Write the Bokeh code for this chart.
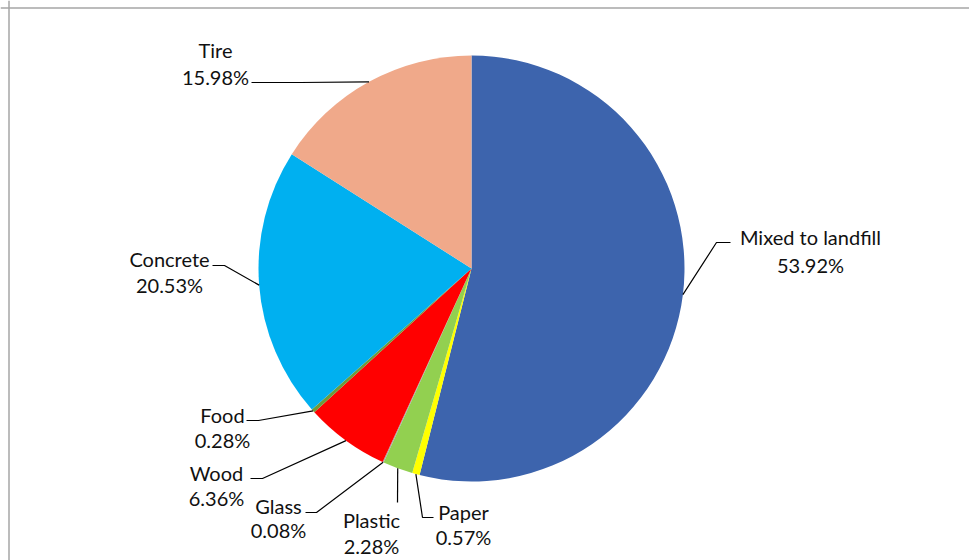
import math
from bokeh.plotting import figure
from bokeh.models import Range1d, Span
from bokeh.core.properties import value
from bokeh.embed import file_html
from bokeh.resources import INLINE

# ---- data ----
categories = ["Mixed to landfill", "Paper", "Plastic", "Glass", "Wood", "Food", "Concrete", "Tire"]
shares = [53.92, 0.57, 2.28, 0.08, 6.36, 0.28, 20.53, 15.98]
colors = ["#3D64AD", "#FFFF00", "#92D050", "#A5A5A5", "#FF0000", "#6E9B3A", "#00B0F0", "#F0A98A"]

# ---- layout (screen pixel coordinates) ----
W, H = 969, 560
CX_S, CY_S, R = 471, 268, 213
TEXT_SHIFT = -2

# label layout: text centre x, name y, pct y, elbow point, line end point
label_layout = {
    "Mixed to landfill": (810, 238, 266, (716, 242), (730, 242)),
    "Paper": (463, 513, 538, (422, 517), (433, 517)),
    "Plastic": (371, 521, 547, (397, 502), (397, 502)),
    "Glass": (278, 507, 531, (316, 512), (305, 512)),
    "Wood": (216, 474, 499, (262, 478), (250, 478)),
    "Food": (222, 416, 441, (258, 420), (246, 420)),
    "Concrete": (169, 260, 286, (224, 265), (212, 265)),
    "Tire": (215, 51, 78, (300, 82), (251, 82)),
}


def dx(sx):
    return sx


def dy(sy):
    return H - sy


p = figure(width=W, height=H, x_range=Range1d(0, W), y_range=Range1d(0, H),
           output_backend="svg", toolbar_location=None, min_border=0)
p.axis.visible = False
p.xgrid.visible = False
p.ygrid.visible = False
p.outline_line_color = None
p.background_fill_color = "white"
p.border_fill_color = "white"

total = sum(shares)
cx, cy = dx(CX_S), dy(CY_S)
starts, ends, mids = [], [], []
cum = 0.0
for s in shares:
    a0 = math.pi / 2 - 2 * math.pi * cum / total
    cum += s
    a1 = math.pi / 2 - 2 * math.pi * cum / total
    starts.append(a0)
    ends.append(a1)
    mids.append((a0 + a1) / 2)

p.wedge(x=[cx] * len(shares), y=[cy] * len(shares), radius=R,
        start_angle=starts, end_angle=ends, direction="clock",
        fill_color=colors, line_color=None)

font = value("Lato")
fs = "20px"
xs_lines, ys_lines = [], []
for cat, s, m in zip(categories, shares, mids):
    tx, ny, py, elbow, endp = label_layout[cat]
    ex = cx + R * math.cos(m)
    ey = cy + R * math.sin(m)
    xs_lines.append([ex, dx(elbow[0]), dx(endp[0])])
    ys_lines.append([ey, dy(elbow[1]), dy(endp[1])])
    p.text(x=[dx(tx)], y=[dy(ny + TEXT_SHIFT)], text=[cat], text_font=font, text_font_size=fs,
           text_align="center", text_baseline="middle", text_color="#111111")
    p.text(x=[dx(tx)], y=[dy(py + TEXT_SHIFT)], text=[f"{s:.2f}%"], text_font=font, text_font_size=fs,
           text_align="center", text_baseline="middle", text_color="#111111")

p.multi_line(xs=xs_lines, ys=ys_lines, line_color="black", line_width=1.2)

p.add_layout(Span(location=8.5, dimension="height", line_color="#A6A6A6", line_width=1.5))
p.add_layout(Span(location=H - 7.5, dimension="width", line_color="#A6A6A6", line_width=1.5))

open("out.html", "w").write(file_html(p, INLINE))
